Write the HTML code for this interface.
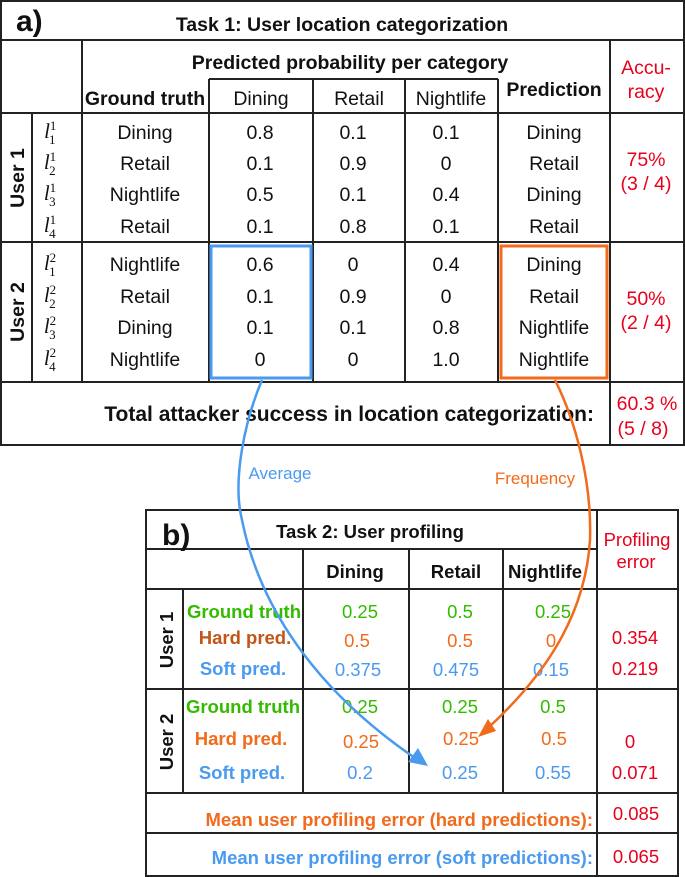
<!DOCTYPE html>
<html><head><meta charset="utf-8"><style>
html,body{margin:0;padding:0;background:#fff;}
svg{display:block;font-family:"Liberation Sans",Arial,sans-serif;}
</style></head><body>
<svg width="685" height="877" viewBox="0 0 685 877" xmlns="http://www.w3.org/2000/svg">
<g stroke="#222" stroke-width="2" fill="none">
  <rect x="1" y="1" width="683" height="444"/>
  <line x1="1" y1="40" x2="684" y2="40"/>
  <line x1="1" y1="113" x2="684" y2="113"/>
  <line x1="1" y1="242" x2="684" y2="242"/>
  <line x1="1" y1="382" x2="684" y2="382"/>
  <line x1="82" y1="40" x2="82" y2="382"/>
  <line x1="32" y1="113" x2="32" y2="382"/>
  <line x1="209" y1="79" x2="209" y2="382"/>
  <line x1="313" y1="79" x2="313" y2="382"/>
  <line x1="405" y1="79" x2="405" y2="382"/>
  <line x1="498" y1="79" x2="498" y2="382"/>
  <line x1="610" y1="40" x2="610" y2="445"/>
  <line x1="209" y1="79" x2="498" y2="79"/>
</g>
<g font-size="19.5" fill="#111" text-anchor="middle">
  <text x="16" y="31" font-size="30" font-weight="bold" text-anchor="start">a)</text>
  <text x="342" y="31" font-weight="bold">Task 1: User location categorization</text>
  <text x="350" y="69" font-weight="bold">Predicted probability per category</text>
  <text x="145" y="105" font-weight="bold">Ground truth</text>
  <text x="261" y="105">Dining</text>
  <text x="359" y="105">Retail</text>
  <text x="451" y="105">Nightlife</text>
  <text x="554" y="96" font-weight="bold">Prediction</text>
  <text x="646" y="74" fill="#e8001c">Accu-</text>
  <text x="646" y="98" fill="#e8001c">racy</text>
  <text transform="translate(24,178) rotate(-90)" font-weight="bold">User 1</text>
  <text transform="translate(24,312) rotate(-90)" font-weight="bold">User 2</text>
  <g font-family="'Liberation Serif',serif" font-style="italic" font-size="21">
    <text x="50" y="138">l<tspan font-size="13" font-style="normal" dy="-8">1</tspan><tspan font-size="13" font-style="normal" dx="-7" dy="14">1</tspan></text>
    <text x="50" y="169">l<tspan font-size="13" font-style="normal" dy="-8">1</tspan><tspan font-size="13" font-style="normal" dx="-7" dy="14">2</tspan></text>
    <text x="50" y="200">l<tspan font-size="13" font-style="normal" dy="-8">1</tspan><tspan font-size="13" font-style="normal" dx="-7" dy="14">3</tspan></text>
    <text x="50" y="232">l<tspan font-size="13" font-style="normal" dy="-8">1</tspan><tspan font-size="13" font-style="normal" dx="-7" dy="14">4</tspan></text>
    <text x="50" y="270">l<tspan font-size="13" font-style="normal" dy="-8">2</tspan><tspan font-size="13" font-style="normal" dx="-7" dy="14">1</tspan></text>
    <text x="50" y="302">l<tspan font-size="13" font-style="normal" dy="-8">2</tspan><tspan font-size="13" font-style="normal" dx="-7" dy="14">2</tspan></text>
    <text x="50" y="333">l<tspan font-size="13" font-style="normal" dy="-8">2</tspan><tspan font-size="13" font-style="normal" dx="-7" dy="14">3</tspan></text>
    <text x="50" y="365">l<tspan font-size="13" font-style="normal" dy="-8">2</tspan><tspan font-size="13" font-style="normal" dx="-7" dy="14">4</tspan></text>
  </g>
  <g>
    <text x="145" y="139">Dining</text><text x="260" y="139">0.8</text><text x="353" y="139">0.1</text><text x="446" y="139">0.1</text><text x="554" y="139">Dining</text>
    <text x="145" y="170">Retail</text><text x="260" y="170">0.1</text><text x="353" y="170">0.9</text><text x="446" y="170">0</text><text x="554" y="170">Retail</text>
    <text x="145" y="201">Nightlife</text><text x="260" y="201">0.5</text><text x="353" y="201">0.1</text><text x="446" y="201">0.4</text><text x="554" y="201">Dining</text>
    <text x="145" y="233">Retail</text><text x="260" y="233">0.1</text><text x="353" y="233">0.8</text><text x="446" y="233">0.1</text><text x="554" y="233">Retail</text>
  </g>
  <g>
    <text x="145" y="271">Nightlife</text><text x="260" y="271">0.6</text><text x="353" y="271">0</text><text x="446" y="271">0.4</text><text x="554" y="271">Dining</text>
    <text x="145" y="303">Retail</text><text x="260" y="303">0.1</text><text x="353" y="303">0.9</text><text x="446" y="303">0</text><text x="554" y="303">Retail</text>
    <text x="145" y="334">Dining</text><text x="260" y="334">0.1</text><text x="353" y="334">0.1</text><text x="446" y="334">0.8</text><text x="554" y="334">Nightlife</text>
    <text x="145" y="366">Nightlife</text><text x="260" y="366">0</text><text x="353" y="366">0</text><text x="446" y="366">1.0</text><text x="554" y="366">Nightlife</text>
  </g>
  <text x="646" y="166" fill="#e8001c">75%</text><text x="646" y="190" fill="#e8001c">(3 / 4)</text>
  <text x="646" y="305" fill="#e8001c">50%</text><text x="646" y="329" fill="#e8001c">(2 / 4)</text>
  <text x="594" y="421" text-anchor="end" font-weight="bold" font-size="21">Total attacker success in location categorization:</text>
  <text x="647" y="410" fill="#e8001c">60.3 %</text><text x="643" y="435" fill="#e8001c">(5 / 8)</text>
</g>
<rect x="211" y="246" width="100" height="132" fill="none" stroke="#4a9af0" stroke-width="3"/>
<rect x="501" y="246" width="106" height="132" fill="none" stroke="#f26a1b" stroke-width="3"/>

<g stroke="#222" stroke-width="2" fill="none">
  <rect x="146" y="510" width="532" height="366"/>
  <line x1="146" y1="549" x2="597" y2="549"/>
  <line x1="146" y1="589" x2="678" y2="589"/>
  <line x1="146" y1="689" x2="678" y2="689"/>
  <line x1="146" y1="793" x2="678" y2="793"/>
  <line x1="146" y1="833" x2="678" y2="833"/>
  <line x1="597" y1="510" x2="597" y2="876"/>
  <line x1="183" y1="589" x2="183" y2="793"/>
  <line x1="303" y1="549" x2="303" y2="793"/>
  <line x1="409" y1="549" x2="409" y2="793"/>
  <line x1="503" y1="549" x2="503" y2="793"/>
</g>
<g font-size="18.5" text-anchor="middle">
  <text x="162" y="545" font-size="30" font-weight="bold" text-anchor="start" fill="#111">b)</text>
  <text x="370" y="538" font-weight="bold" fill="#111">Task 2: User profiling</text>
  <text x="355" y="578" font-weight="bold" fill="#111">Dining</text>
  <text x="456" y="578" font-weight="bold" fill="#111">Retail</text>
  <text x="545" y="578" font-weight="bold" fill="#111">Nightlife</text>
  <text x="637" y="546" fill="#e8001c">Profiling</text>
  <text x="636" y="568" fill="#e8001c">error</text>
  <text transform="translate(173,640) rotate(-90)" font-weight="bold" fill="#111">User 1</text>
  <text transform="translate(173,742) rotate(-90)" font-weight="bold" fill="#111">User 2</text>
  <g font-weight="bold">
    <text x="244" y="618" fill="#33bb00">Ground truth</text>
    <text x="245" y="644" fill="#c0561a">Hard pred.</text>
    <text x="243" y="675" fill="#4a9af0">Soft pred.</text>
    <text x="243" y="713" fill="#33bb00">Ground truth</text>
    <text x="241" y="745" fill="#f26a1b">Hard pred.</text>
    <text x="242" y="779" fill="#4a9af0">Soft pred.</text>
  </g>
  <g fill="#33bb00"><text x="360" y="618">0.25</text><text x="460" y="618">0.5</text><text x="553" y="618">0.25</text>
    <text x="360" y="713">0.25</text><text x="460" y="713">0.25</text><text x="553" y="713">0.5</text></g>
  <g fill="#f26a1b"><text x="357" y="647">0.5</text><text x="460" y="647">0.5</text><text x="551" y="647">0</text>
    <text x="361" y="748">0.25</text><text x="461" y="745">0.25</text><text x="554" y="745">0.5</text></g>
  <g fill="#4a9af0"><text x="358" y="676">0.375</text><text x="456" y="676">0.475</text><text x="551" y="676">0.15</text>
    <text x="360" y="779">0.2</text><text x="460" y="779">0.25</text><text x="553" y="779">0.55</text></g>
  <g fill="#e8001c"><text x="635" y="644">0.354</text><text x="635" y="675">0.219</text>
    <text x="630" y="748">0</text><text x="635" y="779">0.071</text>
    <text x="636" y="820">0.085</text><text x="636" y="863">0.065</text></g>
  <text x="593" y="826" text-anchor="end" font-weight="bold" fill="#f26a1b">Mean user profiling error (hard predictions):</text>
  <text x="593" y="864" text-anchor="end" font-weight="bold" fill="#4a9af0">Mean user profiling error (soft predictions):</text>
</g>

<g fill="none" stroke-width="2.5">
  <path d="M262,380 C245,420 232,480 242,520 C262,620 330,700 415,758" stroke="#4a9af0"/>
  <polygon points="428,766 408,762 418,748" fill="#4a9af0"/>
  <path d="M555,380 C575,420 592,480 590,540 C585,620 540,680 488,728" stroke="#f26a1b"/>
  <polygon points="478,737 488,719 496,731" fill="#f26a1b"/>
</g>
<text x="280" y="479" font-size="17" fill="#4a9af0" text-anchor="middle">Average</text>
<text x="535" y="484" font-size="17" fill="#f26a1b" text-anchor="middle">Frequency</text>
</svg>
</body></html>
